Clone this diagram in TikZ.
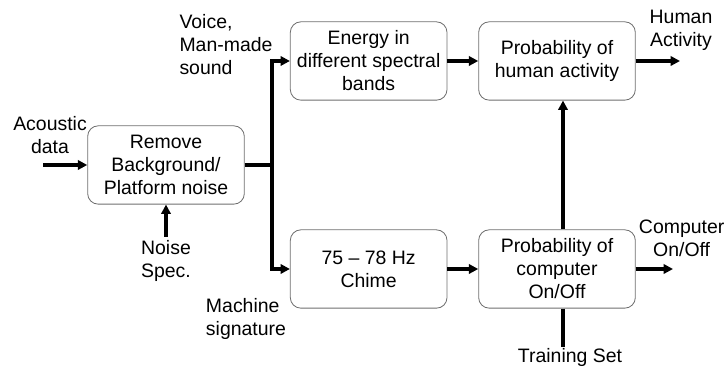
\documentclass[tikz,border=0pt]{standalone}
\usepackage{fontspec}
\setmainfont{Liberation Sans}
\usepackage{tikz}
\usetikzlibrary{arrows.meta, positioning, calc}
\definecolor{boxline}{RGB}{110,110,110}

\begin{document}
\begin{tikzpicture}[
    stage/.style={draw=boxline, line width=0.7pt, minimum width=4.7cm, minimum height=2.35cm, rounded corners=9pt, align=center, font=\fontsize{16.6}{19.6}\selectfont},
    lbl/.style={align=center, font=\fontsize{16.6}{19.6}\selectfont, inner sep=0pt},
    flow/.style={-{Triangle[length=2.8mm, width=2.8mm]}, line width=2.8pt},
    wire/.style={line width=2.8pt}
]
    \useasboundingbox (0,0) rectangle (21.81,11.04);

    % Blocks
    \node[stage] (remove) at (4.98,6.09) {Remove\\Background/\\Platform noise};
    \node[stage] (energy) at (11.06,9.21) {Energy in\\different spectral\\bands};
    \node[stage] (chime) at (11.06,2.97) {75 -- 78 Hz\\Chime};
    \node[stage] (human) at (16.71,9.21) {Probability of\\human activity};
    \node[stage] (comp) at (16.71,2.97) {Probability of\\computer\\On/Off};

    % Free ends
    \coordinate (acin) at (1.29,6.09);
    \coordinate (nsin) at (4.98,3.93);
    \coordinate (split) at (8.16,6.09);
    \coordinate (hout) at (20.4,9.21);
    \coordinate (cout) at (20.19,2.97);
    \coordinate (train) at (16.89,0.63);

    % Labels
    \node[lbl] (acoustic) at (1.5,7.0) {Acoustic\\data};
    \node[lbl] (noise) at (4.98,3.2) {Noise\\Spec.};
    \node[lbl, align=left] (voice) at (6.78,9.69) {Voice,\\Man-made\\sound};
    \node[lbl, align=left] (machine) at (7.38,1.47) {Machine\\signature};
    \node[lbl] (hlabel) at (20.43,10.14) {Human\\Activity};
    \node[lbl] (clabel) at (20.45,3.9) {Computer\\On/Off};
    \node[lbl] (tlabel) at (17.1,0.32) {Training Set};

    % Connections
    \draw[flow] (acin) -- (remove);
    \draw[flow] (nsin) -- (remove);
    \draw[wire] (remove) -- (split);
    \draw[flow] ($(split)+(0,-0.05)$) |- (energy);
    \draw[flow] ($(split)+(0,0.05)$) |- (chime);
    \draw[flow] (energy) -- (human);
    \draw[flow] (chime) -- (comp);
    \draw[flow] (human) -- (hout);
    \draw[flow] (comp) -- (cout);
    \draw[flow] (comp.north -| train) -- (human.south -| train);
    \draw[wire] (comp.south -| train) -- (train);
\end{tikzpicture}
\end{document}
